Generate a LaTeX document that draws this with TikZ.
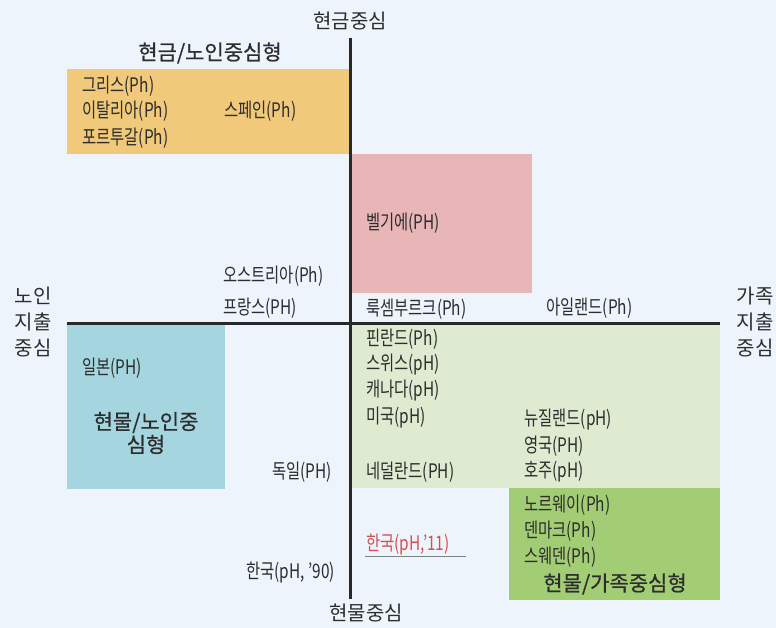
\documentclass[tikz,border=0pt]{standalone}
\usepackage{fontspec}
\setmainfont{Noto Sans CJK KR}
\newfontfamily\kr{Noto Sans CJK KR}
\newfontfamily\krc[FakeStretch=0.77]{Noto Sans CJK KR}
\newfontfamily\krb[FakeBold=0.7]{Noto Sans CJK KR}
\definecolor{bgc}{RGB}{238,244,251}
\definecolor{orng}{RGB}{240,201,122}
\definecolor{pnk}{RGB}{232,182,182}
\definecolor{cyn}{RGB}{165,213,223}
\definecolor{lgrn}{RGB}{223,235,208}
\definecolor{grn}{RGB}{163,205,117}
\definecolor{txt}{RGB}{45,45,45}
\definecolor{redt}{RGB}{210,80,85}
\definecolor{axisc}{RGB}{40,40,40}
\tikzset{
  lab/.style={font=\krc\fontsize{20}{20}\selectfont, anchor=west, inner sep=0pt, text=txt},
  head/.style={font=\krb\fontsize{21}{23}\selectfont, inner sep=0pt, text=txt, align=center},
  axlab/.style={font=\kr\fontsize{20}{26}\selectfont, inner sep=0pt, text=txt, align=center},
  axisline/.style={draw=axisc, line width=3pt},
}
\begin{document}
\begin{tikzpicture}[x=1pt,y=-1pt]
\useasboundingbox (0,0) rectangle (776,628);
\fill[bgc] (0,0) rectangle (776,628);
% boxes
\fill[orng] (67,69) rectangle (350,154);
\fill[pnk] (350,154) rectangle (532,293);
\fill[cyn] (67,323) rectangle (225,489);
\fill[lgrn] (350,323) rectangle (720,488);
\fill[grn] (509,488) rectangle (720,600);
% axes
\coordinate (top) at (350,38);
\coordinate (bot) at (350,599);
\coordinate (lft) at (67,323);
\coordinate (rgt) at (720,323);
\draw[axisline] (top) -- (bot);
\draw[axisline] (lft) -- (rgt);
% axis labels
\node[axlab] (cash) at (350,21) {현금중심};
\node[axlab] (kind) at (366,613) {현물중심};
\node[axlab] (elder) at (33,322) {노인\\지출\\중심};
\node[axlab] (family) at (755,322) {가족\\지출\\중심};
% headings
\node[head] (h1) at (210,53) {현금/노인중심형};
\node[head] (h2) at (146,433) {현물/노인중\\심형};
\node[head] (h3) at (615,584) {현물/가족중심형};
% labels
\node[lab] (gr) at (82,86) {그리스(Ph)};
\node[lab] (it) at (82,111) {이탈리아(Ph)};
\node[lab] (pt) at (82,138) {포르투갈(Ph)};
\node[lab] (es) at (224,111) {스페인(Ph)};
\node[lab] (be) at (366,223) {벨기에(PH)};
\node[lab] (at) at (223,276) {오스트리아(Ph)};
\node[lab] (fr) at (223,308) {프랑스(PH)};
\node[lab] (lu) at (366,309) {룩셈부르크(Ph)};
\node[lab] (ie) at (546,308) {아일랜드(Ph)};
\node[lab] (jp) at (82,368) {일본(PH)};
\node[lab] (fi) at (366,339) {핀란드(Ph)};
\node[lab] (ch) at (366,365) {스위스(pH)};
\node[lab] (ca) at (366,391) {캐나다(pH)};
\node[lab] (us) at (366,418) {미국(pH)};
\node[lab] (nl) at (366,472) {네덜란드(PH)};
\node[lab] (nz) at (524,420) {뉴질랜드(pH)};
\node[lab] (uk) at (524,446) {영국(PH)};
\node[lab] (au) at (524,472) {호주(pH)};
\node[lab] (de) at (272,472) {독일(PH)};
\node[lab] (no) at (524,505) {노르웨이(Ph)};
\node[lab] (dk) at (524,531) {덴마크(Ph)};
\node[lab] (se) at (524,557) {스웨덴(Ph)};
\node[lab, text=redt] (kr11) at (366,545) {한국(pH,’11)};
\node[lab] (kr90) at (246,573) {한국(pH, ’90)};
\coordinate (ul1) at (365,556);
\coordinate (ul2) at (466,556);
\draw[draw=gray, line width=1pt] (ul1) -- (ul2);
\end{tikzpicture}
\end{document}
